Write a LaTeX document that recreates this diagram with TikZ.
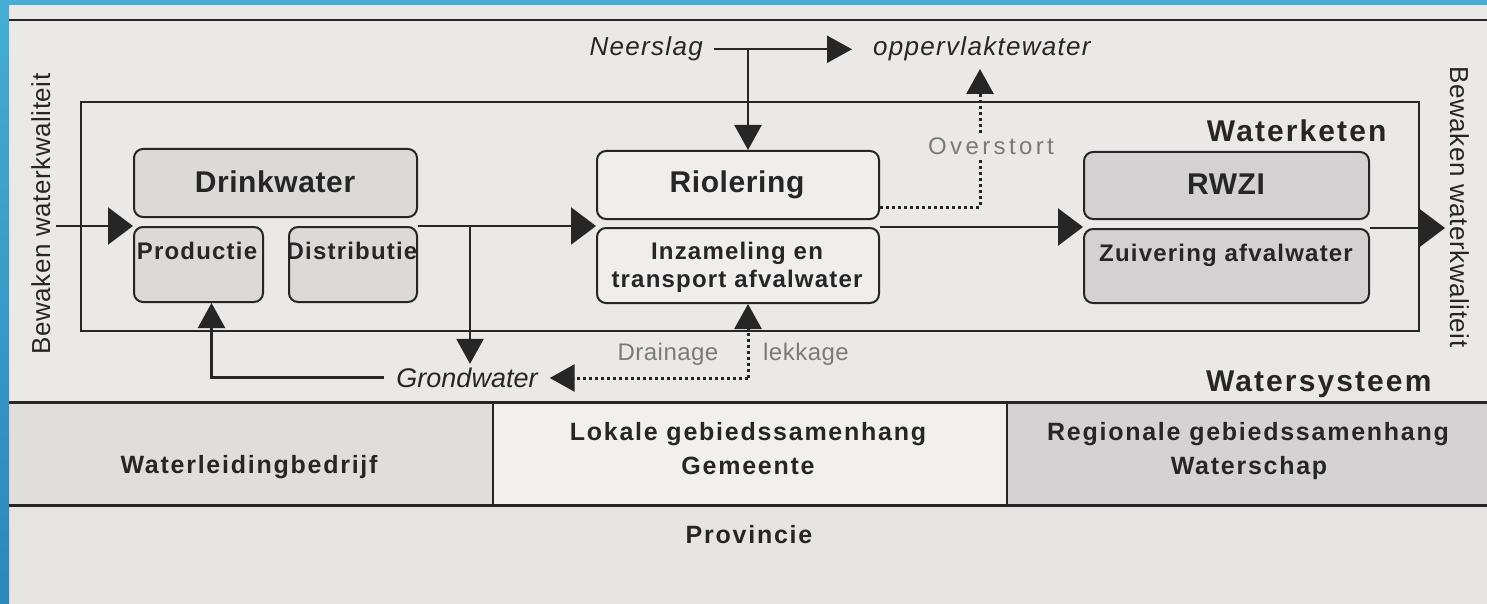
\documentclass[tikz,border=0pt]{standalone}
\usepackage{fontspec}
\setmainfont{Liberation Sans}
\newfontfamily\lsA[LetterSpace=2]{Liberation Sans}
\newfontfamily\lsB[LetterSpace=5]{Liberation Sans}
\newfontfamily\lsC[LetterSpace=7]{Liberation Sans}
\newfontfamily\lsD[LetterSpace=14]{Liberation Sans}
\usetikzlibrary{arrows.meta}
\definecolor{bg}{HTML}{EBE9E7}
\definecolor{blueA}{HTML}{45ADD6}
\definecolor{blueB}{HTML}{2A88BA}
\definecolor{ln}{HTML}{262626}
\definecolor{dwfill}{HTML}{DCDAD9}
\definecolor{riofill}{HTML}{EFEEED}
\definecolor{rwfill}{HTML}{D3D1D1}
\definecolor{cellA}{HTML}{E0DEDC}
\definecolor{cellB}{HTML}{F1F0EF}
\definecolor{cellC}{HTML}{D4D2D2}
\definecolor{prov}{HTML}{E7E5E3}
\definecolor{graytxt}{HTML}{7A7A7A}
\begin{document}
\begin{tikzpicture}[x=1pt,y=-1pt,
  box/.style={draw=ln, line width=2pt, rounded corners=9pt, inner sep=0pt, anchor=north west},
  ttl/.style={font=\lsA\bfseries\fontsize{30}{34}\selectfont, text=ln},
  sub/.style={font=\lsB\bfseries\fontsize{24}{28}\selectfont, text=ln, align=center},
  lab/.style={font=\lsC\bfseries\fontsize{25}{33}\selectfont, text=ln, align=center},
  big/.style={font=\lsC\bfseries\fontsize{30}{34}\selectfont, text=ln},
  ital/.style={font=\lsB\itshape\fontsize{26}{30}\selectfont, text=ln},
  grey/.style={font=\lsA\fontsize{24}{28}\selectfont, text=graytxt},
  side/.style={font=\lsA\fontsize{26}{30}\selectfont, text=ln},
  flow/.style={draw=ln, line width=2.6pt, -{Triangle[length=25pt,width=37pt]}},
  arr/.style={draw=ln, line width=2.4pt, -{Triangle[length=25pt,width=27pt]}},
  dots/.style={draw=ln, line width=3pt, dash pattern=on 3pt off 3pt, -{Triangle[length=25pt,width=27pt]}},
  rule/.style={draw=ln, line width=2pt},
  thick rule/.style={draw=ln, line width=3pt}
]
\useasboundingbox (0,0) rectangle (1487,604);
% background and blue frame
\fill[bg] (0,0) rectangle (1487,604);
\fill[cellA] (9,402) rectangle (493,505);
\fill[cellB] (493,402) rectangle (1007,505);
\fill[cellC] (1007,402) rectangle (1487,505);
\fill[prov] (9,505) rectangle (1487,604);
\shade[top color=blueA, bottom color=blueB] (0,0) rectangle (9,604);
\fill[blueA] (9,0) rectangle (1487,5);
% rules
\draw[rule] (9,20) -- (1487,20);
\draw[thick rule] (9,402) -- (1487,402);
\draw[thick rule] (9,505) -- (1487,505);
\draw[rule] (493,402) -- (493,505);
\draw[rule] (1007,402) -- (1007,505);
% waterketen frame
\draw[rule] (81,102) rectangle (1419,331);
\node[big, anchor=base east] (wk) at (1390,142) {Waterketen};
\node[big, anchor=base east] (ws) at (1435,391) {Watersysteem};
% boxes
\node[box, fill=dwfill, minimum width=283pt, minimum height=68pt] (dw) at (133,148) {};
\node[ttl, anchor=base] (dwt) at (275,193) {Drinkwater};
\node[box, fill=dwfill, minimum width=129pt, minimum height=75pt] (prod) at (133,226) {};
\node[sub, anchor=base] (prodt) at (197,259) {Productie};
\node[box, fill=dwfill, minimum width=128pt, minimum height=75pt] (dist) at (288,226) {};
\node[sub, anchor=base] (distt) at (352,259) {Distributie};
\node[box, fill=riofill, minimum width=282pt, minimum height=68pt] (rio) at (596,150) {};
\node[ttl, anchor=base] (riot) at (737,193) {Riolering};
\node[box, fill=riofill, minimum width=282pt, minimum height=75pt] (inz) at (596,227) {};
\node[sub, anchor=base] (inzt) at (737,259) {Inzameling en};
\node[sub, anchor=base] (inzt2) at (737,287) {transport afvalwater};
\node[box, fill=rwfill, minimum width=285pt, minimum height=67pt] (rw) at (1083,151) {};
\node[ttl, anchor=base] (rwt) at (1226,194) {RWZI};
\node[box, fill=rwfill, minimum width=285pt, minimum height=74pt] (zv) at (1083,228) {};
\node[sub, anchor=base] (zvt) at (1226,261) {Zuivering afvalwater};
% side texts
\node[side, rotate=90, anchor=base] (bl) at (50,214) {Bewaken waterkwaliteit};
\node[side, rotate=-90, anchor=base] (br) at (1450,207) {Bewaken waterkwaliteit};
% top texts
\node[ital, anchor=base east, inner xsep=11pt] (ns) at (714,56) {Neerslag};
\node[ital, anchor=base west, inner xsep=21pt] (ow) at (852,56) {oppervlaktewater};
\node[ital, anchor=base, inner xsep=12pt, font=\itshape\fontsize{27}{30}\selectfont] (gw) at (467,387) {Grondwater};
% coordinates
\coordinate (inL) at (56,226);
\coordinate (outR) at (1445,228);
\coordinate (j1) at (470,226);
\coordinate (j2) at (748,50);
\coordinate (dj) at (748,378);
\coordinate (ovt) at (980,69);
\coordinate (pa) at ([xshift=13pt]prod.south);
% main flow
\draw[flow] (inL) -- (prod.north west);
\draw[flow] (dist.north east) -- (dist.north east -| inz.west);
\draw[flow] (inz.north east) -- (inz.north east -| zv.west);
\draw[flow] (zv.north east) -- (outR);
% other connectors
\draw[arr] (ns.east) -- (ow.west);
\draw[arr] (j2) -- (j2 |- rio.north);
\draw[arr] (j1) -- (j1 |- gw.north);
\draw[arr] (gw.west) -| (pa);
\draw[dots] ([yshift=13pt]rio.south east) -| (ovt);
\draw[dots] (dj) -- (dj |- inz.south);
\draw[dots] (dj) -- (dj -| gw.east);
% grey labels
\node[grey, font=\lsD\fontsize{24}{28}\selectfont, anchor=base, fill=bg, inner sep=2pt] (ovs) at (991,155) {Overstort};
\node[grey, anchor=base] (dr) at (668,360) {Drainage};
\node[grey, anchor=base] (lk) at (806,360) {lekkage};
% bottom labels
\node[lab, anchor=base] (wlb) at (249,473) {Waterleidingbedrijf};
\node[lab, anchor=base] (lg1) at (748,440) {Lokale gebiedssamenhang};
\node[lab, anchor=base] (lg2) at (748,474) {Gemeente};
\node[lab, anchor=base] (rg1) at (1248,440) {Regionale gebiedssamenhang};
\node[lab, anchor=base] (rg2) at (1249,474) {Waterschap};
\node[lab, anchor=base] (pv) at (749,543) {Provincie};
\end{tikzpicture}
\end{document}
